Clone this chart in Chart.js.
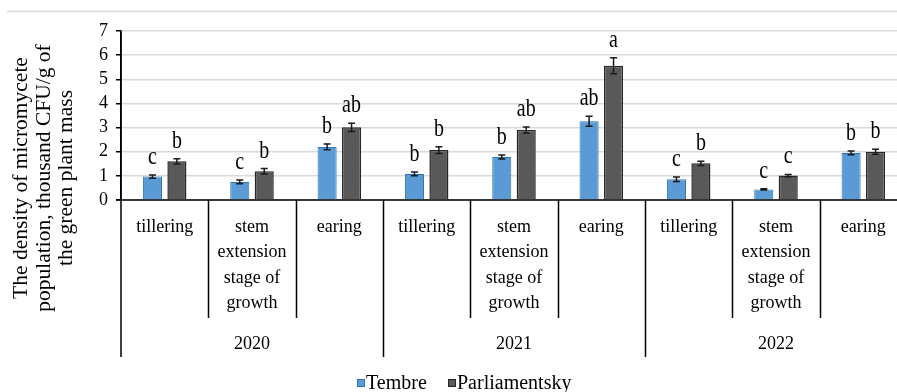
<!DOCTYPE html>
<html>
<head>
<meta charset="utf-8">
<script src="https://cdn.jsdelivr.net/npm/chart.js@4.4.1/dist/chart.umd.min.js"></script>
<style>
  html, body { margin: 0; padding: 0; background: #fff; overflow: hidden; }
  #wrap { position: absolute; left: 0; top: 0; width: 910px; height: 392px; }
</style>
</head>
<body>
<div id="wrap"><canvas id="microChart" width="910" height="392"></canvas></div>
<script>
// growth stages and years (two-level category axis)
const stages = [
  ["tillering"], ["stem", "extension", "stage of", "growth"], ["earing"],
  ["tillering"], ["stem", "extension", "stage of", "growth"], ["earing"],
  ["tillering"], ["stem", "extension", "stage of", "growth"], ["earing"],
];
const years = ["2020", "2021", "2022"];

// micromycete density, thousand CFU/g
const tembre = [0.97, 0.75, 2.2, 1.08, 1.78, 3.26, 0.86, 0.44, 1.95];
const parliamentsky = [1.6, 1.19, 3.01, 2.07, 2.9, 5.56, 1.52, 1.01, 2.0];
const tembreErr = [0.07, 0.08, 0.12, 0.08, 0.08, 0.21, 0.09, 0.03, 0.08];
const parliamentskyErr = [0.11, 0.11, 0.17, 0.14, 0.12, 0.33, 0.09, 0.05, 0.1];

// significance letters
const tembreLetters = ["c", "c", "b", "b", "b", "ab", "c", "c", "b"];
const parliamentskyLetters = ["b", "b", "ab", "b", "ab", "a", "b", "c", "b"];

const yMin = 0;
const yMax = 7;
const yStep = 1;
const yTitle = ["The density of micromycete", "population, thousand CFU/g of", "the green plant mass"];

const serif = "'Liberation Serif', 'Times New Roman', serif";
const errors = [tembreErr, parliamentskyErr];
const letters = [tembreLetters, parliamentskyLetters];

// error bars and letters above each bar
const barExtras = {
  id: "barExtras",
  afterDatasetsDraw(chart) {
    const ctx = chart.ctx;
    const y = chart.scales.y;
    chart.data.datasets.forEach((ds, di) => {
      const meta = chart.getDatasetMeta(di);
      meta.data.forEach((bar, i) => {
        const v = ds.data[i];
        const e = errors[di][i];
        const top = y.getPixelForValue(v + e);
        const bot = y.getPixelForValue(v - e);
        ctx.save();
        ctx.strokeStyle = "#1a1a1a";
        ctx.lineWidth = 1.5;
        ctx.beginPath();
        ctx.moveTo(bar.x, top);
        ctx.lineTo(bar.x, bot);
        ctx.moveTo(bar.x - 3.5, top);
        ctx.lineTo(bar.x + 3.5, top);
        ctx.moveTo(bar.x - 3.5, bot);
        ctx.lineTo(bar.x + 3.5, bot);
        ctx.stroke();

        // letters are drawn a bit stretched vertically
        ctx.fillStyle = "#000";
        ctx.font = "20px " + serif;
        ctx.textAlign = "center";
        ctx.textBaseline = "alphabetic";
        ctx.translate(bar.x, top - 11);
        ctx.scale(1, 1.3);
        ctx.fillText(letters[di][i], 0, 0);
        ctx.restore();
      });
    });
  },
};

// category axis, axis title, frame line and legend
const axisDecor = {
  id: "axisDecor",
  afterDraw(chart) {
    const ctx = chart.ctx;
    const area = chart.chartArea;
    const x = chart.scales.x;
    const n = stages.length;
    const w = (area.right - area.left) / n;

    ctx.save();
    // chart frame
    ctx.strokeStyle = "#d9d9d9";
    ctx.lineWidth = 1.5;
    ctx.beginPath();
    ctx.moveTo(7, 11.5);
    ctx.lineTo(chart.width, 11.5);
    ctx.stroke();

    // horizontal axis and dividers
    ctx.strokeStyle = "#000";
    ctx.lineWidth = 1.5;
    ctx.beginPath();
    ctx.moveTo(area.left - 5, area.bottom);
    ctx.lineTo(chart.width, area.bottom);
    ctx.moveTo(area.left, area.top);
    ctx.lineTo(area.left, 357);
    for (let i = 1; i <= n; i++) {
      const px = Math.round(area.left + i * w) + 0.5;
      ctx.moveTo(px, area.bottom);
      ctx.lineTo(px, i % 3 === 0 ? 357 : 318);
    }
    ctx.stroke();

    ctx.fillStyle = "#000";
    ctx.font = "18px " + serif;
    ctx.textAlign = "center";
    ctx.textBaseline = "middle";
    stages.forEach((lines, i) => {
      const cx = x.getPixelForValue(i);
      lines.forEach((t, k) => ctx.fillText(t, cx, 227 + k * 25.5));
    });
    years.forEach((yr, g) => {
      ctx.fillText(yr, x.getPixelForValue(g * 3 + 1), 344);
    });

    // y axis title
    ctx.save();
    ctx.translate(44, 178);
    ctx.rotate(-Math.PI / 2);
    ctx.font = "21.5px " + serif;
    yTitle.forEach((t, k) => ctx.fillText(t, 0, (k - 1) * 22.5));
    ctx.restore();

    // legend
    const items = [
      { label: "Tembre", fill: "#5b9bd5", stroke: "#2e75b6", x: 357 },
      { label: "Parliamentsky", fill: "#595959", stroke: "#262626", x: 448 },
    ];
    ctx.textAlign = "left";
    items.forEach((it) => {
      ctx.fillStyle = it.fill;
      ctx.fillRect(it.x, 379, 8, 8);
      ctx.strokeStyle = it.stroke;
      ctx.lineWidth = 1;
      ctx.strokeRect(it.x + 0.5, 379.5, 7, 7);
      ctx.fillStyle = "#000";
      ctx.font = "20px " + serif;
      ctx.fillText(it.label, it.x + 9, 384);
    });
    ctx.restore();
  },
};

const ctx = document.getElementById("microChart").getContext("2d");
const microChart = new Chart(ctx, {
  type: "bar",
  data: {
    labels: stages.map((s) => s.join(" ")),
    datasets: [
      {
        label: "Tembre",
        data: tembre,
        backgroundColor: "#5b9bd5",
        borderColor: "#2e75b6",
        borderWidth: 1,
        categoryPercentage: 0.56,
        barPercentage: 0.78,
      },
      {
        label: "Parliamentsky",
        data: parliamentsky,
        backgroundColor: "#595959",
        borderColor: "#262626",
        borderWidth: 1.5,
        categoryPercentage: 0.56,
        barPercentage: 0.78,
      },
    ],
  },
  options: {
    responsive: false,
    animation: false,
    devicePixelRatio: 1,
    layout: { padding: { left: 0, top: 31, right: 3, bottom: 192 } },
    plugins: {
      legend: { display: false },
      tooltip: { enabled: false },
    },
    scales: {
      x: { display: false },
      y: {
        min: yMin,
        max: yMax,
        afterFit: (scale) => { scale.width = 121; },
        ticks: {
          stepSize: yStep,
          autoSkip: false,
          color: "#000",
          padding: 8,
          font: { family: serif, size: 18 },
        },
        grid: { color: "#d9d9d9", lineWidth: 1.5, tickLength: 5, tickColor: "#000" },
        border: { display: true, color: "#000", width: 1.5 },
      },
    },
  },
  plugins: [barExtras, axisDecor],
});
</script>
</body>
</html>
